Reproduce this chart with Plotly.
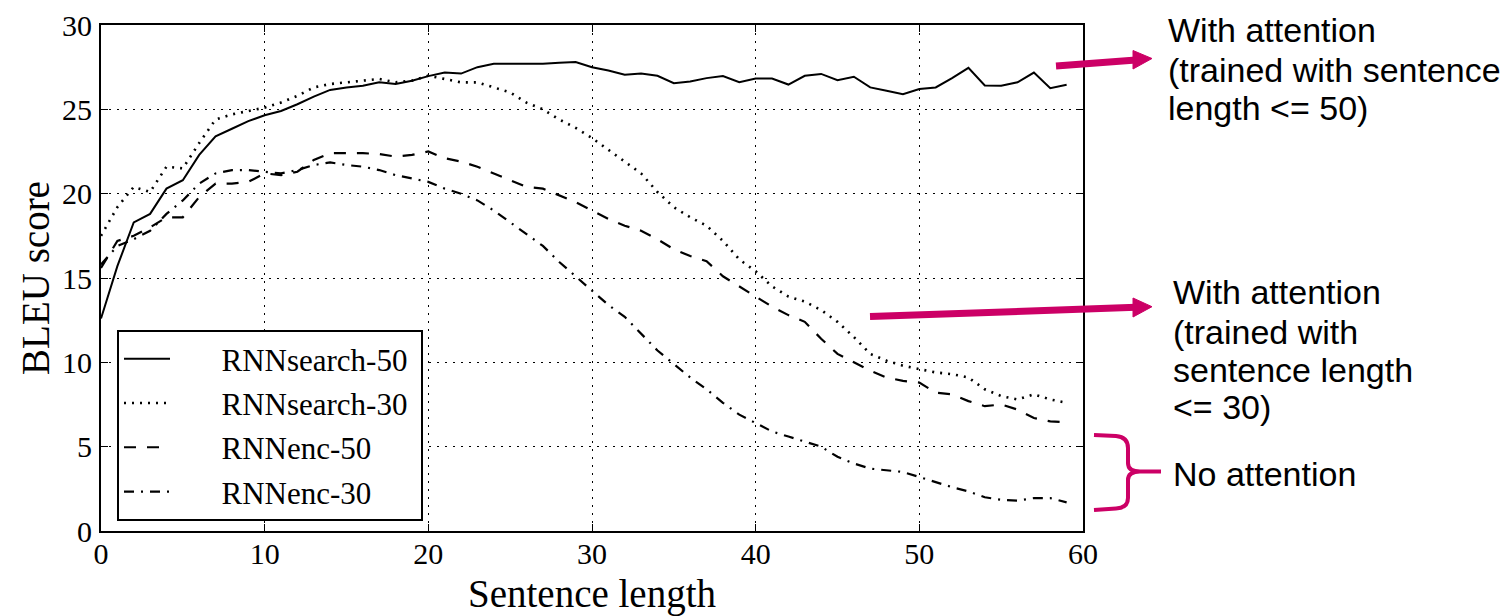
import plotly.graph_objects as go

# ---------------- data ----------------
sentence_length = list(range(60))

rnnsearch_50 = [12.6, 15.7, 18.3, 18.8, 20.3, 20.8, 22.3, 23.4, 23.85, 24.3,
                24.65, 24.9, 25.3, 25.75, 26.15, 26.3, 26.4, 26.6, 26.5, 26.7,
                26.97, 27.18, 27.12, 27.5, 27.7, 27.7, 27.66, 27.7, 27.76, 27.8,
                27.5, 27.3, 27.05, 27.13, 26.99, 26.55, 26.65, 26.85, 26.97, 26.61,
                26.83, 26.83, 26.47, 26.99, 27.1, 26.73, 26.93, 26.3, 26.1, 25.9,
                26.2, 26.3, 26.85, 27.46, 26.41, 26.4, 26.6, 27.18, 26.25, 26.46]

rnnsearch_30 = [17.5, 19.2, 20.4, 20.1, 21.6, 21.5, 23.0, 24.4, 24.7, 24.9,
                25.1, 25.4, 25.8, 26.3, 26.5, 26.6, 26.7, 26.8, 26.6, 26.7,
                27.0, 26.8, 26.6, 26.6, 26.3, 26.0, 25.4, 25.0, 24.4, 23.9,
                23.3, 22.6, 21.9, 21.2, 20.1, 19.2, 18.6, 18.1, 17.2, 16.1,
                15.4, 14.5, 13.9, 13.6, 13.1, 12.4, 11.5, 10.5, 10.1, 9.8,
                9.6, 9.4, 9.3, 9.1, 8.4, 8.0, 7.8, 8.1, 7.8, 7.6]

rnnenc_50 = [15.6, 17.2, 17.5, 18.0, 18.6, 18.6, 19.8, 20.6, 20.6, 20.7,
             21.2, 21.1, 21.3, 22.0, 22.4, 22.4, 22.4, 22.35, 22.2, 22.3,
             22.5, 22.1, 21.9, 21.6, 21.2, 20.8, 20.4, 20.3, 19.9, 19.5,
             19.0, 18.5, 18.1, 17.8, 17.3, 16.7, 16.3, 16.0, 15.1, 14.5,
             13.9, 13.3, 12.8, 12.4, 11.4, 10.5, 10.0, 9.5, 9.1, 8.9,
             8.8, 8.2, 8.1, 7.7, 7.4, 7.5, 7.2, 6.7, 6.5, 6.45]

rnnenc_30 = [15.8, 16.9, 17.3, 17.8, 18.8, 19.6, 20.6, 21.2, 21.4, 21.4,
             21.3, 21.2, 21.4, 21.7, 21.85, 21.7, 21.6, 21.4, 21.1, 20.9,
             20.7, 20.3, 20.0, 19.6, 19.0, 18.3, 17.6, 16.9, 15.95, 15.1,
             14.3, 13.4, 12.7, 11.7, 10.7, 9.9, 9.1, 8.4, 7.6, 6.9,
             6.4, 5.9, 5.6, 5.3, 5.0, 4.4, 4.0, 3.7, 3.6, 3.5,
             3.2, 2.9, 2.6, 2.35, 2.0, 1.85, 1.8, 1.95, 1.95, 1.7]

series_names = ["RNNsearch-50", "RNNsearch-30", "RNNenc-50", "RNNenc-30"]
x_ticks = [0, 10, 20, 30, 40, 50, 60]
y_ticks = [0, 5, 10, 15, 20, 25, 30]

note_top = ["With attention", "(trained with sentence", "length <= 50)"]
note_mid = ["With attention", "(trained with", "sentence length", "<= 30)"]
note_low = ["No attention"]

# ---------------- layout geometry ----------------
# the page body has an 8px margin, so the figure is 8px smaller than the window
WIN_W, WIN_H, OFF = 1509, 616, 8
FIG_W, FIG_H = WIN_W - OFF, WIN_H - OFF
AX_L, AX_R, AX_T, AX_B = 101, 1083, 25, 531       # plot box in window pixels
ML, MT = AX_L - OFF, AX_T - OFF
MR, MB = FIG_W - (AX_R - OFF), FIG_H - (AX_B - OFF)
PW, PH = AX_R - AX_L, AX_B - AX_T

def px(xp):
    return (xp - AX_L) / PW

def py(yp):
    return (AX_B - yp) / PH

SERIF = "Liberation Serif, Times New Roman, serif"
SANS = "Liberation Sans, Arial, sans-serif"
MAGENTA = "#CC0066"
LEAD = "\u00a0" * 6
TRAIL = "\u00a0"

fig = go.Figure()
styles = [
    dict(dash="solid", width=2),
    dict(dash="2px,6px", width=2.6),
    dict(dash="12px,11px", width=2.2),
    dict(dash="10px,7px,2px,7px", width=2.2),
]
for name, ys, st in zip(series_names, [rnnsearch_50, rnnsearch_30, rnnenc_50, rnnenc_30], styles):
    fig.add_trace(go.Scatter(
        x=sentence_length, y=ys, mode="lines", name=LEAD + name + TRAIL, legendgroup=name,
        line=dict(color="black", width=st["width"], dash=st["dash"]),
    ))

axis_common = dict(
    showline=True, linecolor="black", linewidth=2, mirror="ticks",
    ticks="inside", ticklen=7, tickwidth=1.2, tickcolor="black",
    showgrid=True, gridcolor="black", gridwidth=1, griddash="2px,6px",
    zeroline=False, tickfont=dict(family=SERIF, size=30, color="black"),
)

fig.update_layout(
    width=FIG_W, height=FIG_H,
    margin=dict(l=ML, r=MR, t=MT, b=MB, autoexpand=False),
    paper_bgcolor="white", plot_bgcolor="white",
    xaxis=dict(range=[0, 60], tickvals=x_ticks, ticklabelstandoff=-5,
               title=dict(text="Sentence length", font=dict(family=SERIF, size=39, color="black"), standoff=20),
               **axis_common),
    yaxis=dict(range=[0, 30], tickvals=y_ticks, ticklabelstandoff=1,
               title=dict(text="BLEU score", font=dict(family=SERIF, size=39, color="black"), standoff=0),
               **axis_common),
    legend=dict(
        x=px(117), y=py(330), xanchor="left", yanchor="top",
        bgcolor="white", bordercolor="black", borderwidth=2,
        font=dict(family=SERIF, size=31, color="black"),
        tracegroupgap=1, itemwidth=46,
    ),
    showlegend=True,
)

# ---------------- annotations (text on the right) ----------------
def add_lines(lines, x_left, baselines):
    for txt, b in zip(lines, baselines):
        fig.add_annotation(
            xref="paper", yref="paper", x=px(x_left), y=py(b - 12),
            xanchor="left", yanchor="middle", showarrow=False, text=txt,
            font=dict(family=SANS, size=34, color="black"),
        )

add_lines(note_top, 1166, [42, 82, 120])
add_lines(note_mid, 1171, [304, 344, 382, 419])
add_lines(note_low, 1171, [486])

# ---------------- arrows and brace ----------------
def seg(x0, y0, x1, y1, w):
    fig.add_shape(type="line", xref="paper", yref="paper",
                  x0=px(x0), y0=py(y0), x1=px(x1), y1=py(y1),
                  line=dict(color=MAGENTA, width=w), layer="above")

def tri(pts):
    d = "M " + " L ".join(f"{px(a):.5f},{py(b):.5f}" for a, b in pts) + " Z"
    fig.add_shape(type="path", xref="paper", yref="paper", path=d,
                  fillcolor=MAGENTA, line=dict(color=MAGENTA, width=1), layer="above")

seg(1056, 66, 1136, 60, 7)
tri([(1133, 50.5), (1152, 58.5), (1133, 69)])
seg(870, 316.5, 1136, 307.3, 7)
tri([(1133, 298), (1152, 306.7), (1133, 317)])

brace_pts = [
    ("M", [(1094, 435)]), ("L", [(1116, 436)]), ("Q", [(1128, 437), (1128, 448)]),
    ("L", [(1128, 463)]), ("Q", [(1128, 471.5), (1140, 471.5)]), ("L", [(1161, 471.5)]),
    ("M", [(1140, 471.5)]), ("Q", [(1128, 471.5), (1128, 480)]), ("L", [(1128, 498)]),
    ("Q", [(1128, 508), (1116, 508.5)]), ("L", [(1094, 510)]),
]
path = " ".join(cmd + " " + " ".join(f"{px(a):.5f},{py(b):.5f}" for a, b in pts) for cmd, pts in brace_pts)
fig.add_shape(type="path", xref="paper", yref="paper", path=path,
              line=dict(color=MAGENTA, width=4), layer="above")

fig.write_html("out.html")
